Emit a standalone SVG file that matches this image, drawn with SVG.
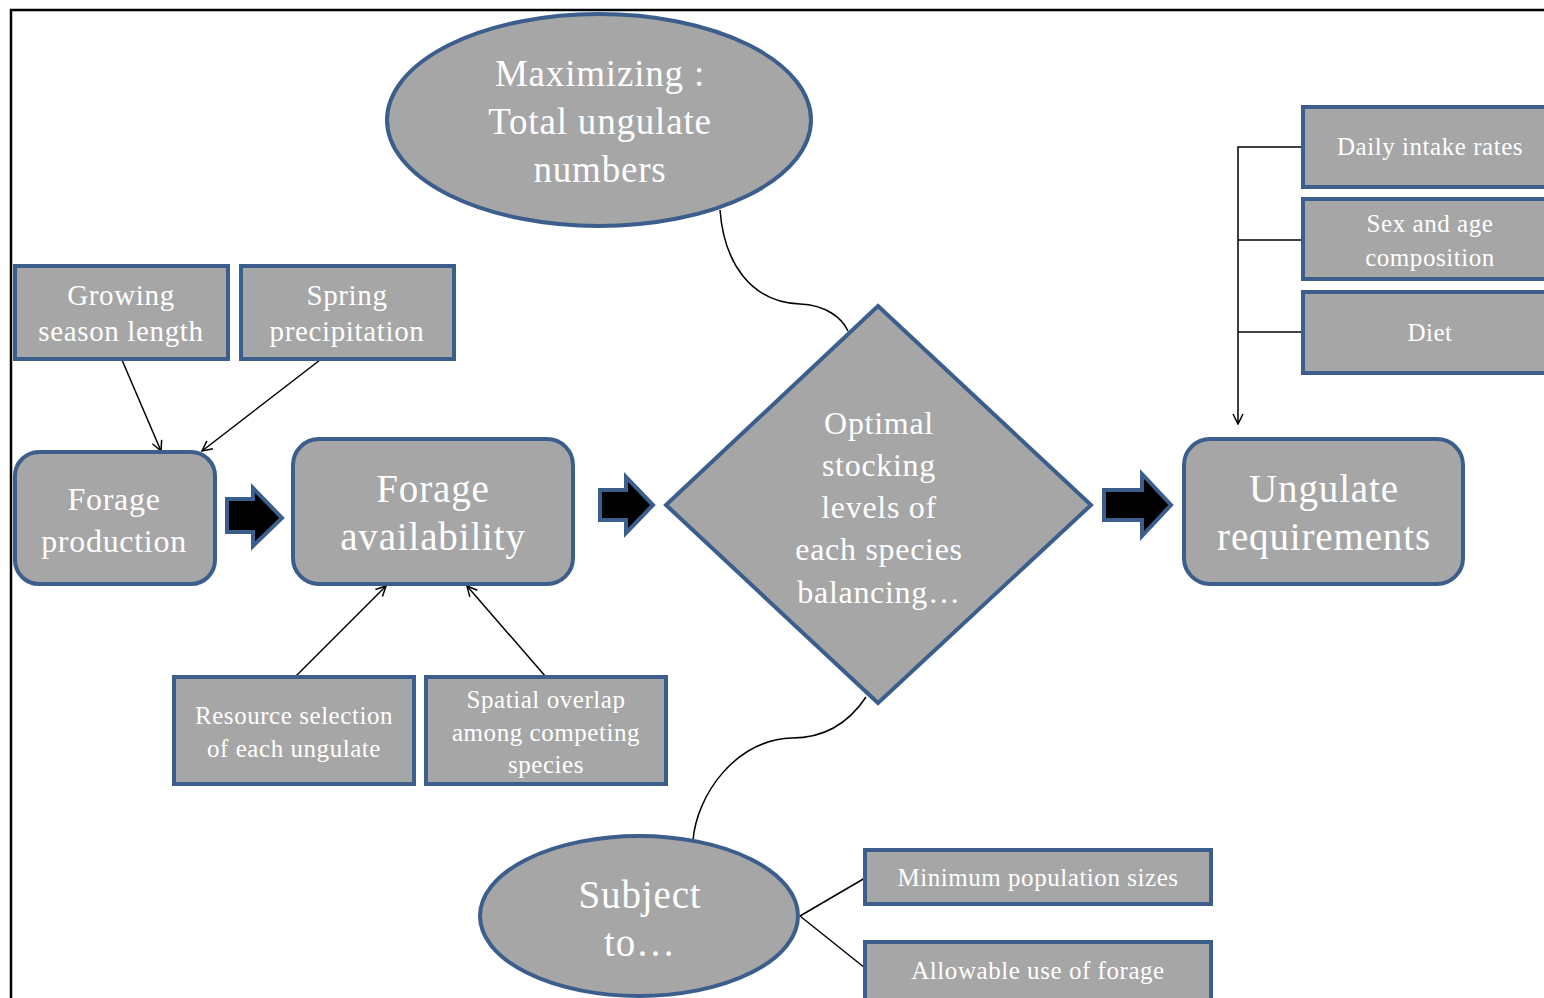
<svg xmlns="http://www.w3.org/2000/svg" width="1544" height="998" viewBox="0 0 1544 998">
<defs>
<marker id="vh" viewBox="0 0 12 12" refX="11" refY="6" markerWidth="12" markerHeight="12" markerUnits="userSpaceOnUse" orient="auto">
<path d="M1,1 L11,6 L1,11" fill="none" stroke="#000" stroke-width="1.5"/>
</marker>
<style>
.n{fill:#a6a6a6;stroke:#3b5e8c;stroke-width:4}
.t{fill:#fff;font-family:"Liberation Serif",serif;text-anchor:middle;letter-spacing:0.022em}
.c{fill:none;stroke:#000;stroke-width:1.5}
.ba{fill:#000;stroke:#3b5e8c;stroke-width:4;stroke-linejoin:miter}
</style>
</defs>
<rect width="1544" height="998" fill="#fff"/>
<path d="M11,998 V10 H1544" fill="none" stroke="#000" stroke-width="2.5"/>

<g id="connectors">
<path class="c" d="M720,210 C724,262 750,302 800,304 C826,305 842,318 848,331"/>
<path class="c" d="M866,697 C852,718 830,738 792,738 C735,740 697,795 693,840"/>
<line class="c" x1="122" y1="360" x2="161" y2="451" marker-end="url(#vh)"/>
<line class="c" x1="320" y1="360" x2="202" y2="451" marker-end="url(#vh)"/>
<line class="c" x1="295" y1="677" x2="386" y2="586" marker-end="url(#vh)"/>
<line class="c" x1="546" y1="677" x2="467" y2="586" marker-end="url(#vh)"/>
<path class="c" d="M1303,147 H1238 V424" marker-end="url(#vh)"/>
<line class="c" x1="1238" y1="240" x2="1303" y2="240"/>
<line class="c" x1="1238" y1="332" x2="1303" y2="332"/>
<line class="c" x1="800" y1="916" x2="865" y2="878"/>
<line class="c" x1="800" y1="916" x2="865" y2="968"/>
<path class="ba" d="M227,499 H253 V488 L282,518 L253,546 V532 H227 Z"/>
<path class="ba" d="M600,490 H626 V477 L653,505 L626,533 V520 H600 Z"/>
<path class="ba" d="M1104,490 H1142 V474 L1171,505 L1142,536 V520 H1104 Z"/>
</g>

<g id="maximizing">
<ellipse class="n" cx="599" cy="120" rx="212" ry="106"/>
<text class="t" font-size="37" x="600" y="86">Maximizing :</text>
<text class="t" font-size="37" x="600" y="134">Total ungulate</text>
<text class="t" font-size="37" x="600" y="182">numbers</text>
</g>

<g id="growing">
<rect class="n" x="15" y="266" width="213" height="93"/>
<text class="t" font-size="29" x="121" y="305">Growing</text>
<text class="t" font-size="29" x="121" y="341">season length</text>
</g>

<g id="spring">
<rect class="n" x="241" y="266" width="213" height="93"/>
<text class="t" font-size="29" x="347" y="305">Spring</text>
<text class="t" font-size="29" x="347" y="341">precipitation</text>
</g>

<g id="forage-production">
<rect class="n" x="15" y="452" width="200" height="132" rx="24"/>
<text class="t" font-size="32" x="114" y="510">Forage</text>
<text class="t" font-size="32" x="114" y="552">production</text>
</g>

<g id="forage-availability">
<rect class="n" x="293" y="439" width="280" height="145" rx="26"/>
<text class="t" font-size="39" x="433" y="502">Forage</text>
<text class="t" font-size="39" x="433" y="550">availability</text>
</g>

<g id="optimal">
<polygon class="n" points="878,306 1091,505 878,703 666,505"/>
<text class="t" font-size="32" x="879" y="434">Optimal</text>
<text class="t" font-size="32" x="879" y="476">stocking</text>
<text class="t" font-size="32" x="879" y="518">levels of</text>
<text class="t" font-size="32" x="879" y="560">each species</text>
<text class="t" font-size="32" x="879" y="603">balancing…</text>
</g>

<g id="ungulate-requirements">
<rect class="n" x="1184" y="439" width="279" height="145" rx="26"/>
<text class="t" font-size="39" x="1324" y="502">Ungulate</text>
<text class="t" font-size="39" x="1324" y="550">requirements</text>
</g>

<g id="daily-intake">
<rect class="n" x="1303" y="107" width="250" height="80"/>
<text class="t" font-size="25" x="1430" y="155">Daily intake rates</text>
</g>

<g id="sex-age">
<rect class="n" x="1303" y="199" width="250" height="80"/>
<text class="t" font-size="25" x="1430" y="232">Sex and age</text>
<text class="t" font-size="25" x="1430" y="266">composition</text>
</g>

<g id="diet">
<rect class="n" x="1303" y="292" width="250" height="81"/>
<text class="t" font-size="25" x="1430" y="341">Diet</text>
</g>

<g id="resource-selection">
<rect class="n" x="174" y="677" width="240" height="107"/>
<text class="t" font-size="25" x="294" y="724">Resource selection</text>
<text class="t" font-size="25" x="294" y="757">of each ungulate</text>
</g>

<g id="spatial-overlap">
<rect class="n" x="426" y="677" width="240" height="107"/>
<text class="t" font-size="25" x="546" y="708">Spatial overlap</text>
<text class="t" font-size="25" x="546" y="741">among competing</text>
<text class="t" font-size="25" x="546" y="773">species</text>
</g>

<g id="subject-to">
<ellipse class="n" cx="639" cy="916" rx="159" ry="80"/>
<text class="t" font-size="39" x="640" y="908">Subject</text>
<text class="t" font-size="39" x="640" y="956">to…</text>
</g>

<g id="minimum-population">
<rect class="n" x="865" y="850" width="346" height="54"/>
<text class="t" font-size="25" x="1038" y="886">Minimum population sizes</text>
</g>

<g id="allowable-use">
<rect class="n" x="865" y="942" width="346" height="60"/>
<text class="t" font-size="25" x="1038" y="979">Allowable use of forage</text>
</g>
</svg>
